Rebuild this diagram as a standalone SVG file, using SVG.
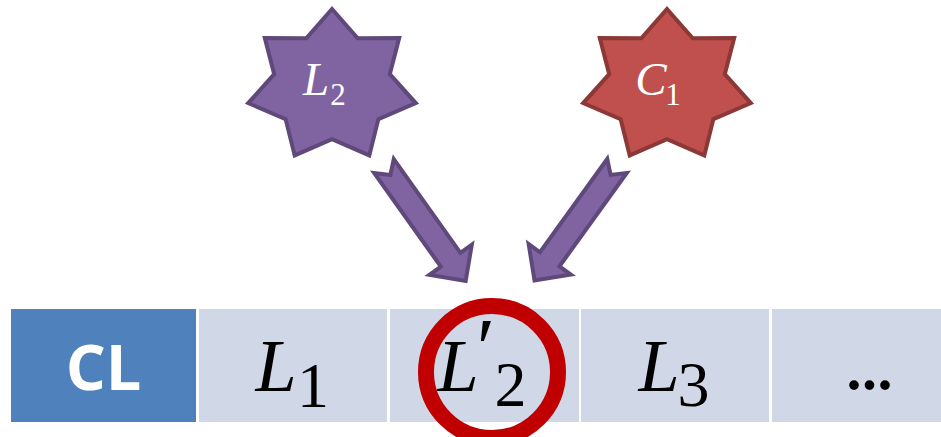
<svg xmlns="http://www.w3.org/2000/svg" width="941" height="437" viewBox="0 0 941 437">
<style>
.box{fill:#D0D8E8}
.cl{fill:#4F81BD}
.star{stroke-width:4;stroke-linejoin:miter}
.purple{fill:#8064A2;stroke:#5F497A}
.red{fill:#C0504D;stroke:#8C3836}
.arrow{fill:#8064A2;stroke:#5F497A;stroke-width:4;stroke-linejoin:miter}
.m{font-family:"Liberation Serif","DejaVu Serif",serif;font-style:italic;text-anchor:middle}
.d{font-family:"Liberation Serif","DejaVu Serif",serif;text-anchor:middle}
.w{fill:#FFFFFF}
.k{fill:#000000}
</style>
<defs>
<path id="star7" d="M0,-77 L25.7,-47.8 L67.2,-48 L57.8,-11.8 L83.8,17.1 L46.4,33.1 L37.3,69.4 L0,53.1 L-37.3,69.4 L-46.4,33.1 L-83.8,17.1 L-57.8,-11.8 L-67.2,-48 L-25.7,-47.8 Z"/>
<path id="arr" d="M0,-12 L115,-12 L115,-26 L141,0 L115,26 L115,12 L0,12 L11,0 Z"/>
</defs>
<rect width="941" height="437" fill="#FFFFFF"/>
<g id="node-CL">
<rect class="cl" x="11" y="309" width="185" height="113"/>
<text x="103.5" y="390" font-family="'Open Sans','Liberation Sans',sans-serif" font-weight="bold" font-size="63" fill="#FFFFFF" text-anchor="middle">CL</text>
</g>
<g id="node-L1">
<rect class="box" x="199" y="309" width="188" height="113"/>
<text class="m k" x="276" y="391" font-size="74">L</text>
<text class="d k" x="313" y="407" font-size="64">1</text>
</g>
<g id="node-L2prime">
<rect class="box" x="390" y="309" width="189" height="113"/>
<text class="m k" x="458" y="391" font-size="74">L</text>
<text class="d k" x="486" y="377" font-size="84">′</text>
<text class="d k" x="510.5" y="406" font-size="64">2</text>
</g>
<g id="node-L3">
<rect class="box" x="581" y="309" width="188" height="113"/>
<text class="m k" x="659" y="391" font-size="74">L</text>
<text class="d k" x="693.5" y="406" font-size="64">3</text>
</g>
<g id="node-more">
<rect class="box" x="772" y="309" width="169" height="113"/>
<text class="d k" x="867" y="389" font-size="82" letter-spacing="-5">...</text>
</g>
<g id="highlight">
<circle cx="492" cy="372" r="66" fill="none" stroke="#C00000" stroke-width="16"/>
</g>
<g id="node-L2star">
<use href="#star7" class="star purple" transform="translate(332,86)"/>
<text class="m w" x="316" y="95" font-size="47">L</text>
<text class="d w" x="338" y="105" font-size="31">2</text>
</g>
<g id="node-C1star">
<use href="#star7" class="star red" transform="translate(667,86)"/>
<text class="m w" x="651" y="95" font-size="47">C</text>
<text class="d w" x="673" y="105" font-size="31">1</text>
</g>
<g id="connectors">
<use href="#arr" class="arrow" transform="translate(384,166) rotate(54.6)"/>
<use href="#arr" class="arrow" transform="translate(617,166) rotate(125.8)"/>
</g>
</svg>
